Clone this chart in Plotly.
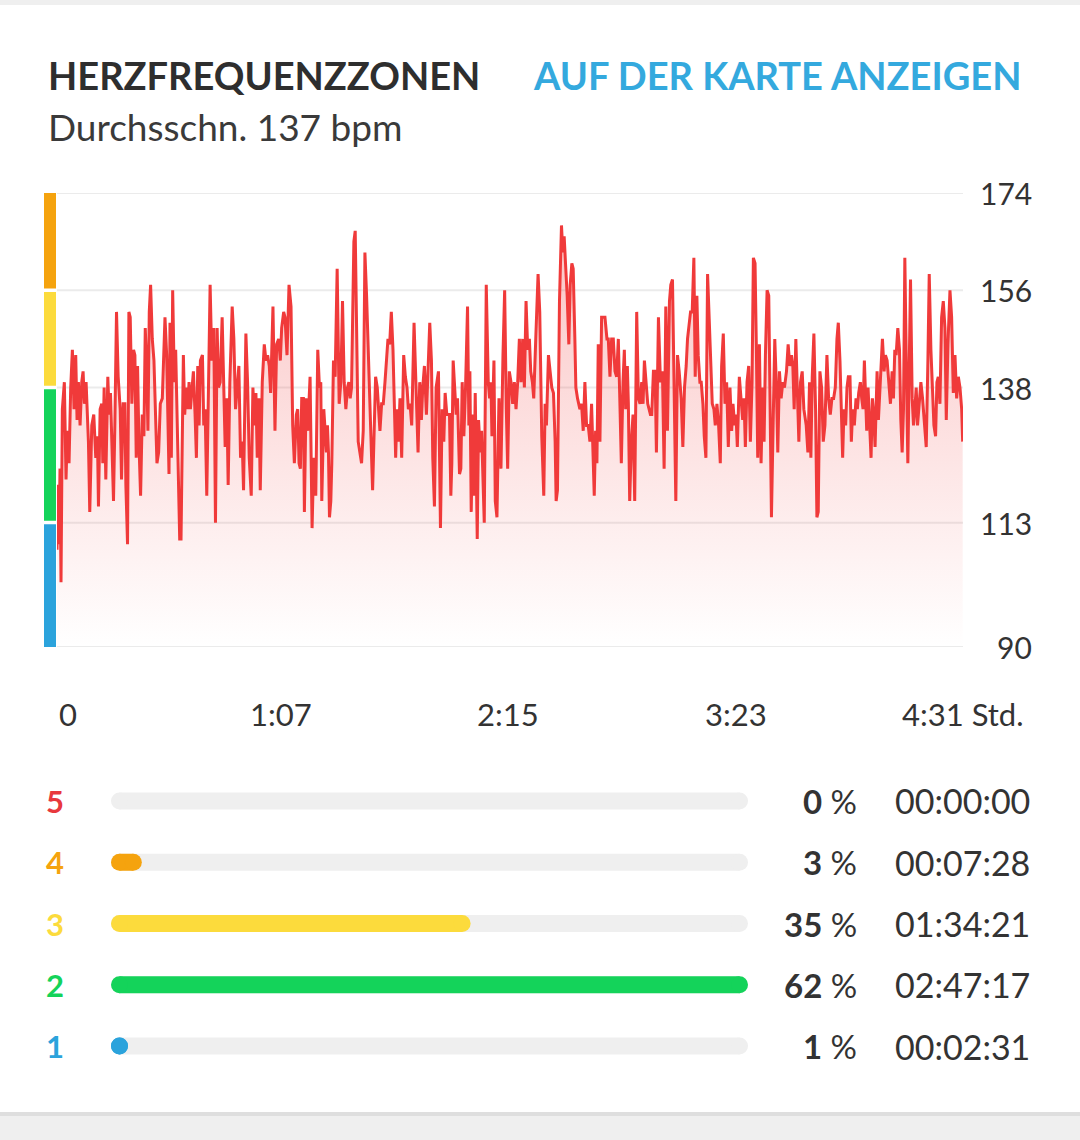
import plotly.graph_objects as go

# Herzfrequenz-Verlauf: Minuten seit Start und bpm
minutes = [
    0.0, 0.2, 0.6, 0.9, 1.2, 1.6, 2.2, 2.7, 3.1, 3.6, 4.1, 4.6, 5.1, 5.6, 6.0, 6.4, 6.9, 7.4, 7.8, 8.2,
    8.7, 9.1, 9.4, 9.8, 10.4, 11.0, 11.6, 12.1, 12.4, 12.9, 13.4, 13.7, 14.1, 14.6, 15.2, 15.6, 16.0,
    16.4, 16.9, 17.3, 17.8, 18.3, 18.9, 19.3, 19.8, 20.3, 20.6, 21.1, 21.5, 21.9, 22.4, 22.9, 23.3,
    23.7, 24.1, 24.5, 25.0, 25.5, 26.0, 26.4, 26.8, 27.2, 27.6, 28.0, 28.5, 29.0, 29.5, 29.9, 30.4,
    30.9, 31.5, 31.9, 32.3, 32.8, 33.2, 33.5, 33.8, 34.2, 34.6, 35.1, 35.5, 35.9, 36.3, 36.7, 37.1,
    37.4, 37.8, 38.2, 38.6, 39.1, 39.5,
    39.9, 40.3, 40.8, 41.3, 41.7, 42.1, 42.5, 42.9, 43.5, 43.9, 44.3, 44.8, 45.3, 45.8, 46.3, 46.9,
    47.4, 47.9, 48.3, 48.8, 49.4, 49.9, 50.3, 50.8, 51.2, 51.7, 52.4, 52.9, 53.4, 53.9, 54.4, 54.9,
    55.4, 55.8, 56.5, 57.0, 57.5, 58.1, 58.6, 59.1, 59.5, 59.9, 60.4, 60.8, 61.4, 62.0, 62.5, 63.0,
    63.5, 63.9, 64.6, 65.2, 65.7, 66.3, 66.8, 67.2, 67.8, 68.2, 68.8, 69.4, 70.0, 70.5, 71.0, 71.6,
    72.0, 72.4, 72.8, 73.2, 73.7, 74.0, 74.5, 75.0, 75.7, 76.3, 76.8, 77.4, 78.0,
    78.5, 78.9, 79.2, 79.8, 80.2, 80.6, 80.9, 81.2, 81.5, 81.9, 82.2, 82.7, 83.2, 83.8, 84.4, 84.9,
    85.4, 85.9, 86.4, 86.9, 87.3, 87.7, 88.1, 88.4, 88.8, 89.2, 89.6, 90.1, 90.6, 91.1, 91.6, 92.1,
    92.6, 93.1, 93.6, 93.9, 94.4, 94.9, 95.3, 95.8, 96.2, 96.6, 97.1, 97.6, 98.1, 98.5, 99.0, 99.5,
    100.0, 100.5, 100.9, 101.3, 101.7, 102.1, 102.6, 103.1, 103.7, 104.2, 104.7, 105.1, 105.6, 106.1,
    106.8, 107.4, 108.0, 108.5, 109.0, 109.4, 109.9, 110.5, 111.1, 111.5, 112.0, 112.4, 112.9, 113.4,
    114.1, 114.7, 115.2, 115.7, 116.1, 116.6, 117.1,
    117.4, 117.8, 118.1, 118.5, 119.0, 119.4, 119.8, 120.1, 120.4, 120.8, 121.2, 121.7, 122.2, 122.8,
    123.2, 123.5, 123.9, 124.4, 124.7, 125.1, 125.7, 126.1, 126.6, 127.0, 127.4, 127.8, 128.4, 129.0,
    129.4, 129.8, 130.1, 130.7, 131.1, 131.6, 132.2, 132.8, 133.4, 133.9, 134.4, 134.8, 135.3, 135.8,
    136.3, 136.8, 137.3, 137.8, 138.3, 138.8, 139.3, 139.8, 140.3, 140.8, 141.3, 141.7, 142.2, 142.6,
    143.2, 143.9, 144.4, 145.0, 145.6, 146.0, 146.4, 147.0, 147.5, 148.0, 148.5, 149.0, 149.3, 149.7,
    150.3, 150.9, 151.3, 151.7, 152.1, 152.6, 153.1, 153.5, 154.0, 154.4, 154.9, 155.2, 155.7,
    156.4, 156.9, 157.4, 157.9, 158.4, 158.9, 159.4, 159.9, 160.3, 160.7, 161.1, 161.5, 161.9, 162.4,
    162.9, 163.4, 163.9, 164.5, 164.9, 165.4, 165.9, 166.4, 166.9, 167.4, 167.9, 168.3, 168.8, 169.3,
    169.7, 170.1, 170.6, 170.9, 171.3, 171.8, 172.3, 172.8, 173.4, 173.9, 174.4, 174.9, 175.3, 175.7,
    176.2, 176.7, 177.1, 177.5, 177.9, 178.4, 178.9, 179.3, 179.9, 180.5, 181.1, 181.6, 182.1, 182.6,
    183.2, 183.6, 184.1, 184.6, 185.1, 185.6, 186.1, 186.7, 187.2, 187.7, 188.2, 188.6, 189.0, 189.5,
    190.0, 190.5, 190.9, 191.4, 191.8, 192.3, 192.7, 193.2, 193.6, 194.1, 194.6,
    195.0, 195.5, 196.0, 196.5, 196.9, 197.4, 197.9, 198.4, 198.8, 199.3, 199.8, 200.3, 200.8, 201.3,
    201.8, 202.2, 202.7, 203.1, 203.5, 204.1, 204.6, 205.1, 205.5, 205.9, 206.4, 206.9, 207.4, 207.9,
    208.3, 208.8, 209.2, 209.6, 210.1, 210.6, 211.1, 211.5, 211.9, 212.4, 212.9, 213.3, 213.7, 214.2,
    214.7, 215.2, 215.6, 216.1, 216.6, 217.1, 217.6, 218.2, 218.7, 219.2, 219.7, 220.1, 220.5, 221.0,
    221.5, 221.9, 222.4, 222.9, 223.4, 223.8, 224.1, 224.6, 225.1, 225.5, 225.9, 226.4, 226.9, 227.3,
    227.7, 228.2, 228.7, 229.2, 229.7, 230.3, 230.8, 231.3, 231.8, 232.3, 232.8, 233.3, 233.7,
    234.2, 234.5, 235.0, 235.4, 235.9, 236.3, 236.7, 237.2, 237.6, 238.0, 238.5, 239.0, 239.4, 239.8,
    240.3, 240.7, 241.1, 241.5, 241.9, 242.2, 242.6, 243.0, 243.5, 243.9, 244.3, 244.7, 245.3, 245.7,
    246.1, 246.5, 246.9, 247.4, 247.8, 248.3, 248.8, 249.3, 249.8, 250.2, 250.6, 251.0, 251.5, 252.0,
    252.4, 252.8, 253.2, 253.6, 254.1, 254.5, 254.9, 255.3, 255.8, 256.2, 256.6, 257.0, 257.4, 257.9,
    258.4, 258.9, 259.2, 259.6, 260.0, 260.5, 260.9, 261.4, 261.9, 262.3, 262.8, 263.2, 263.6, 264.1,
    264.6, 265.1, 265.6, 266.0, 266.5, 267.1, 267.6, 268.1, 268.6, 269.1, 269.6, 270.1, 270.6, 270.9,
]
bpm = [
    108, 120, 109, 123, 102, 134, 139, 121, 130, 124, 138, 145, 134, 144, 132, 139, 131, 139, 141, 135,
    139, 134, 128, 115, 131, 133, 125, 129, 116, 134, 135, 124, 138, 121, 140, 133, 137,
    128, 117, 131, 152, 140, 134, 121, 135, 135, 120, 109, 152, 151, 135, 145, 144,
    125, 142, 128, 118, 133, 129, 149, 142, 130, 152, 157, 147, 143, 133, 124, 126,
    135, 136, 145, 151, 144, 134, 122, 150, 125, 156, 139, 145, 134, 121, 110, 110,
    125, 144, 133, 138, 134, 139,
    134, 138, 141, 133, 125, 142, 131, 143, 144, 131, 134, 118, 142, 157, 143, 149,
    113, 149, 138, 139, 151, 139, 127, 136, 120, 139, 153, 147, 134, 138, 142, 125,
    128, 119, 148, 139, 125, 118, 138, 131, 137, 125, 136, 119, 139, 146, 143, 144,
    142, 137, 153, 130, 146, 147, 143, 149, 152, 151, 144, 157, 153, 131, 124, 133,
    134, 124, 123, 136, 136, 115, 136, 130, 140, 112, 125, 118, 145,
    138, 139, 117, 134, 130, 126, 131, 126, 114, 117, 124, 143, 140, 160, 135, 139,
    154, 139, 134, 138, 139, 136, 138, 152, 165, 167, 152, 128, 126, 124, 130, 163,
    155, 143, 131, 129, 119, 134, 140, 138, 134, 130, 135, 135, 139, 143, 147, 146,
    152, 145, 133, 125, 134, 128, 136, 125, 144, 140, 138, 134, 135, 131,
    150, 139, 126, 139, 132, 138, 142, 133, 144, 150, 143, 125, 116, 138,
    141, 112, 134, 128, 137, 133, 133,
    133, 118, 124, 143, 138, 133, 136, 126, 122, 123, 139, 129, 138, 153,
    131, 141, 115, 133, 118, 137, 110, 132, 126, 130, 119, 113, 157, 139,
    136, 139, 129, 143, 117, 114, 136, 123, 144, 156, 134, 123, 141, 139,
    135, 139, 134, 139, 147, 139, 147, 138, 154, 145, 147, 141, 139, 136,
    147, 159, 152, 129, 118, 135, 131, 144, 141, 138, 137, 128, 117, 119,
    154, 168, 163, 166, 161, 155, 146, 157, 161, 160, 147, 138, 136,
    134, 135, 130, 139, 131, 131, 128, 135, 128, 118, 130, 124, 146, 128,
    151, 151, 151, 147, 147, 140, 147, 147, 141, 140, 147, 137, 124, 139,
    145, 134, 142, 135, 117, 128, 133, 117, 152, 136, 135, 139, 135, 143,
    139, 135, 134, 133, 133, 141, 141, 126, 151, 139, 141, 123, 153, 130,
    154, 157, 158, 134, 117, 144, 141, 136, 127, 138, 142, 147, 149, 152,
    152, 162, 140, 155, 144, 139, 139, 135, 129, 125, 159,
    151, 143, 135, 134, 131, 135, 131, 124, 142, 148, 135, 139, 127, 138,
    130, 135, 131, 133, 127, 140, 135, 132, 136, 127, 139, 142, 128, 139,
    162, 161, 145, 125, 146, 124, 138, 128, 144, 156, 155, 138, 114, 131,
    147, 138, 126, 141, 136, 139, 138, 141, 146, 142, 144, 142, 134, 147,
    135, 128, 139, 141, 134, 132, 131, 126, 139, 125, 140, 148, 134, 114,
    115, 141, 138, 128, 131, 144, 136, 133, 136, 136, 138, 147, 150,
    143, 134, 125, 134, 131, 138, 140, 140, 128, 134, 131, 136, 134, 137,
    139, 136, 134, 143, 136, 130, 138, 131, 125, 136, 133, 127, 141, 132,
    138, 141, 147, 141, 144, 143, 138, 135, 141, 136, 145, 144, 149, 145,
    132, 126, 134, 162, 140, 124, 141, 158, 136, 131, 134, 138, 131, 135,
    139, 136, 133, 131, 127, 143, 159, 145, 136, 131, 129, 139, 140, 135,
    151, 154, 149, 132, 146, 156, 151, 137, 144, 136, 140, 138, 134, 128,
]
assert len(minutes) == len(bpm)

x_ticks = [0, 67, 135, 203, 271]
x_tick_text = ["0", "1:07", "2:15", "3:23", "4:31 Std."]
y_ticks = [90, 113, 138, 156, 174]

# Zonengrenzen (bpm) fuer den Farbbalken links
zone_bounds = [90, 113, 138, 156, 174]
band_colors = ["#2ba3dc", "#14d35a", "#fcdb3c", "#f5a30e"]

zones = [5, 4, 3, 2, 1]
zone_pct = [0, 3, 35, 62, 1]
zone_time = ["00:00:00", "00:07:28", "01:34:21", "02:47:17", "00:02:31"]
zone_colors = ["#e8383d", "#f5a30e", "#fcdb3c", "#14d35a", "#2ba3dc"]

W, H = 1080, 1140
L, R, T, B = 57, 117, 193, 63
FONT = "Lato"
DARK = "#333333"
BAR_PX = 17              # Dicke der Zonenbalken
BAR_X0, BAR_X1 = 111, 748


def px_x(px):
    return (px - L) / (W - L - R)


def px_y(py):
    return (H - B - py) / (H - T - B)


fig = go.Figure()

fig.add_trace(go.Scatter(
    x=minutes, y=bpm, mode="lines",
    line=dict(color="#f03a3a", width=3),
    fill="tozeroy",
    fillgradient=dict(type="vertical", start=90, stop=160,
                      colorscale=[[0, "rgba(240,58,58,0)"], [1, "rgba(240,58,58,0.27)"]]),
    hoverinfo="skip", xaxis="x", yaxis="y",
))

# Zonen-Balken unten: dicke Linie mit runden Enden (Kreis-Marker)
mx = max(zone_pct)
r = (BAR_PX / 2) * mx / (BAR_X1 - BAR_X0)   # Radius in Achseneinheiten
for z in zones:
    fig.add_trace(go.Scatter(
        x=[r, mx - r], y=[z, z], mode="lines+markers",
        line=dict(color="#efefef", width=BAR_PX),
        marker=dict(color="#efefef", size=BAR_PX, line_width=0),
        hoverinfo="skip", xaxis="x2", yaxis="y2",
    ))
for z, p, c in zip(zones, zone_pct, zone_colors):
    if p <= 0:
        continue
    fig.add_trace(go.Scatter(
        x=[r, max(p - r, r)], y=[z, z], mode="lines+markers",
        line=dict(color=c, width=BAR_PX),
        marker=dict(color=c, size=BAR_PX, line_width=0),
        hoverinfo="skip", xaxis="x2", yaxis="y2",
    ))

shapes = [
    dict(type="rect", xref="paper", yref="paper", x0=px_x(0), x1=px_x(W),
         y0=px_y(1116), y1=px_y(5), fillcolor="#dedede", line_width=0, layer="below"),
    dict(type="rect", xref="paper", yref="paper", x0=px_x(0), x1=px_x(W),
         y0=px_y(1112), y1=px_y(5), fillcolor="white", line_width=0, layer="below"),
]
for v in y_ticks:
    shapes.append(dict(type="line", xref="paper", yref="y", x0=0, x1=1, y0=v, y1=v,
                       line=dict(color="#ebebeb", width=2), layer="below"))
for i, col in enumerate(band_colors):
    lo = zone_bounds[i] + (0.35 if i > 0 else 0)
    hi = zone_bounds[i + 1] - (0.3 if i < len(band_colors) - 1 else 0)
    shapes.append(dict(type="rect", xref="paper", yref="y", x0=px_x(44), x1=px_x(56),
                       y0=lo, y1=hi, fillcolor=col, line_width=0))

ann = [
    dict(text="<b>HERZFREQUENZZONEN</b>", x=px_x(46), y=px_y(75), xanchor="left",
         font=dict(size=38, color="#2e2e2e")),
    dict(text="<b>AUF DER KARTE ANZEIGEN</b>", x=px_x(1023), y=px_y(75), xanchor="right",
         font=dict(size=38, color="#34a9de")),
    dict(text="Durchsschn. 137 bpm", x=px_x(46), y=px_y(126), xanchor="left",
         font=dict(size=37, color="#3a3a3a")),
]
for v in y_ticks:
    ann.append(dict(text=str(v), x=px_x(1034), y=v, yref="y", xanchor="right",
                    font=dict(size=30, color=DARK)))
for v, t in zip(x_ticks, x_tick_text):
    ann.append(dict(text=t, x=v, xref="x", y=px_y(714), xanchor="left" if v == 0 else "center",
                    font=dict(size=31, color=DARK)))
for z, p, tm, c in zip(zones, zone_pct, zone_time, zone_colors):
    ann.append(dict(text=f"<b>{z}</b>", x=px_x(55), y=z, yref="y2", xanchor="center",
                    font=dict(size=31, color=c)))
    ann.append(dict(text=f"<b>{p}</b> %", x=px_x(859), y=z, yref="y2", xanchor="right",
                    font=dict(size=33, color=DARK)))
    ann.append(dict(text=tm, x=px_x(893), y=z, yref="y2", xanchor="left",
                    font=dict(size=34, color=DARK)))
for a in ann:
    a.setdefault("xref", "paper")
    a.setdefault("yref", "paper")
    a.update(showarrow=False, yanchor="middle")

fig.update_layout(
    width=W, height=H, margin=dict(l=L, r=R, t=T, b=B),
    paper_bgcolor="#efefef", plot_bgcolor="rgba(0,0,0,0)",
    font=dict(family=FONT, color=DARK), showlegend=False,
    xaxis=dict(range=[0, 271], showgrid=False, zeroline=False, showticklabels=False,
               showline=False, fixedrange=True),
    yaxis=dict(domain=[px_y(647), 1], range=[90, 174], showgrid=False, showticklabels=False,
               zeroline=False, showline=False),
    xaxis2=dict(domain=[px_x(BAR_X0), px_x(BAR_X1)], range=[0, mx], anchor="y2", visible=False),
    yaxis2=dict(domain=[0, px_y(770)], range=[0.494, 5.506], anchor="x2", visible=False),
    shapes=shapes, annotations=ann,
)

fig.write_html("out.html", config={"displayModeBar": False},
               post_script="document.body.style.margin='0';")
